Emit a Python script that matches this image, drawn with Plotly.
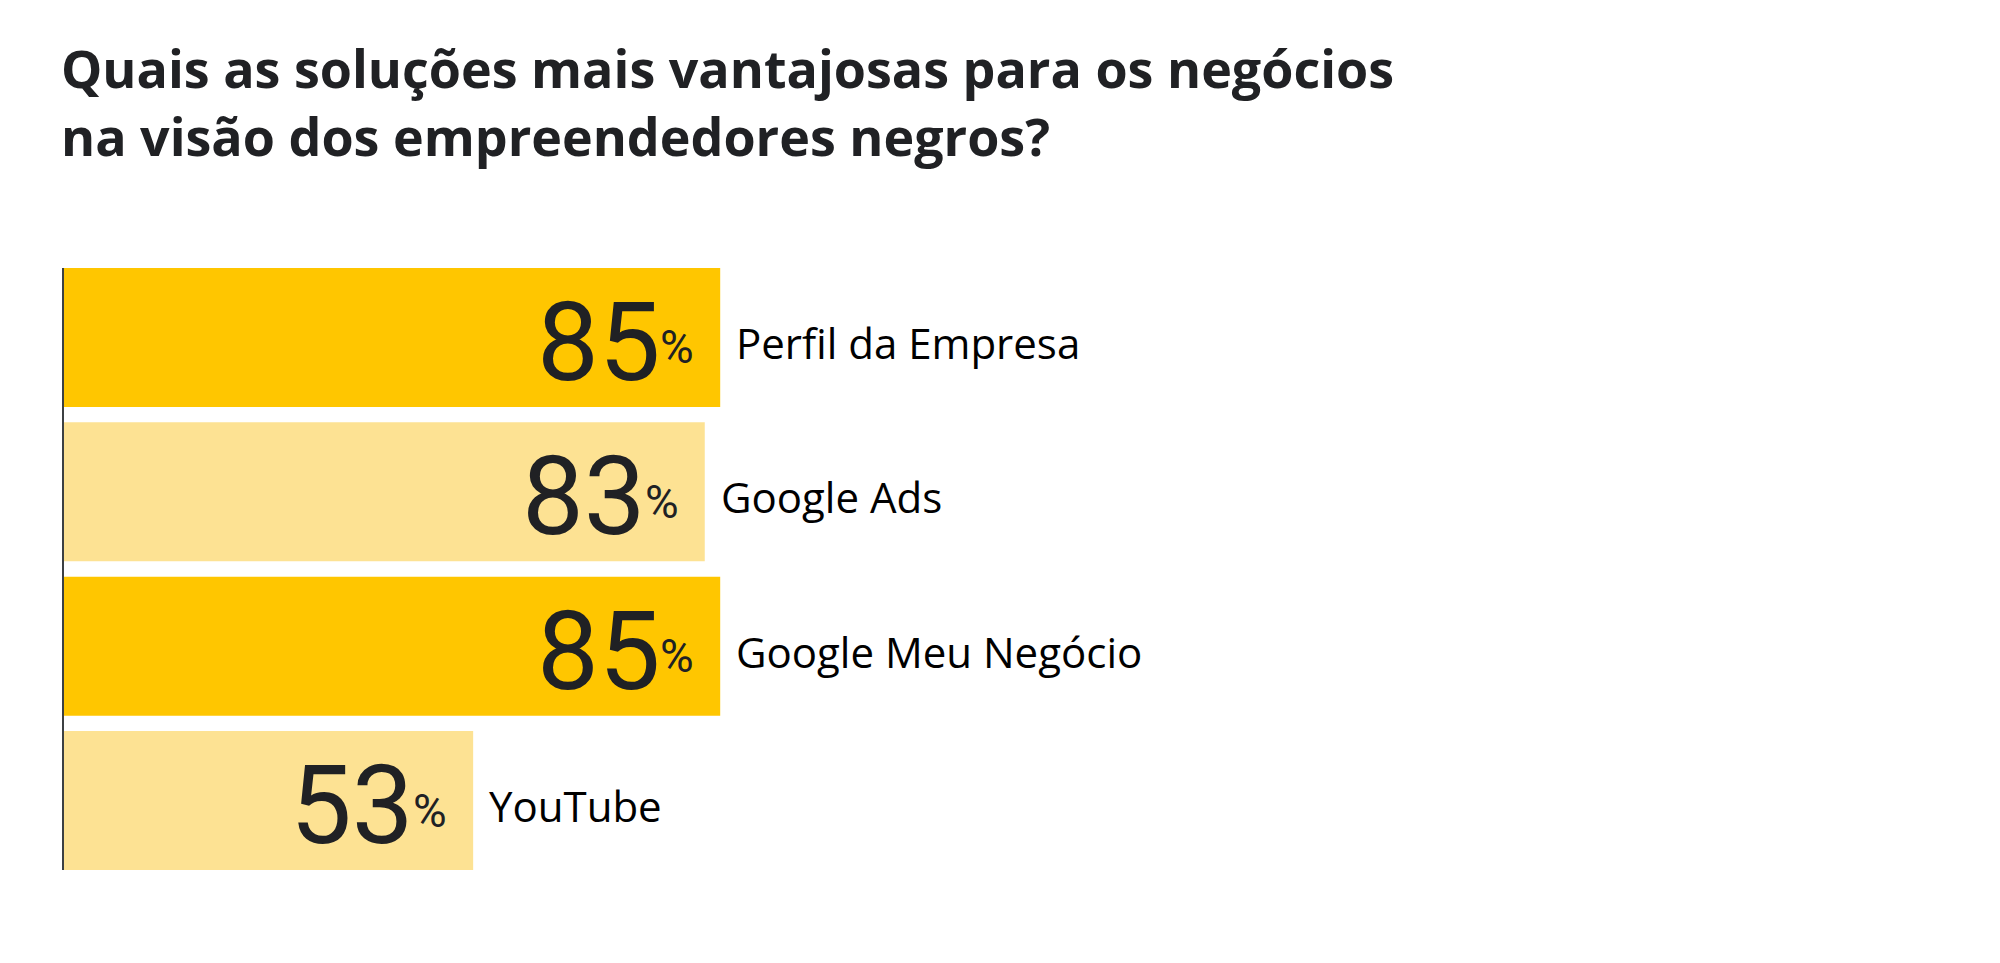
import plotly.graph_objects as go

categories = ["Perfil da Empresa", "Google Ads", "Google Meu Negócio", "YouTube"]
values = [85, 83, 85, 53]
bar_colors = ["#FFC600", "#FDE293", "#FFC600", "#FDE293"]

title_text = (
    "Quais as soluções mais vantajosas para os negócios<br>"
    "na visão dos empreendedores negros?"
)

NUM_FONT = "Roboto"
TXT_FONT = "Open Sans"
DARK = "#202124"

fig = go.Figure()

fig.add_trace(
    go.Bar(
        x=values,
        y=categories,
        orientation="h",
        marker=dict(color=bar_colors, line=dict(width=0)),
        hoverinfo="skip",
        showlegend=False,
    )
)

annotations = []
for cat, val in zip(categories, values):
    # big number, right aligned inside the bar, leaving room for the %
    annotations.append(
        dict(
            x=val, y=cat, xref="x", yref="y",
            text=str(val),
            showarrow=False,
            xanchor="right", yanchor="middle",
            xshift=-57, yshift=-5,
            font=dict(family=NUM_FONT, size=110, color=DARK),
        )
    )
    # small percent sign
    annotations.append(
        dict(
            x=val, y=cat, xref="x", yref="y",
            text="%",
            showarrow=False,
            xanchor="right", yanchor="middle",
            xshift=-24, yshift=-10,
            font=dict(family=NUM_FONT, size=46, color=DARK),
        )
    )
    # category label after the bar
    annotations.append(
        dict(
            x=val, y=cat, xref="x", yref="y",
            text=cat,
            showarrow=False,
            xanchor="left", yanchor="middle",
            xshift=14, yshift=-5,
            font=dict(family=TXT_FONT, size=42, color="#000000"),
        )
    )

# page body adds an 8px margin, so the figure is 16px smaller and shifted
fig.update_layout(
    width=1992,
    height=955,
    paper_bgcolor="white",
    plot_bgcolor="white",
    margin=dict(l=56, r=392, t=260, b=93),
    bargap=0.1,
    title=dict(
        text=title_text,
        xref="container", yref="container",
        x=0.0266, xanchor="left",
        y=0.916, yanchor="top",
        font=dict(family=TXT_FONT, size=52, color=DARK, weight=700),
    ),
    xaxis=dict(
        range=[0, 200],
        visible=False,
        fixedrange=True,
    ),
    yaxis=dict(
        # range hugs the bars so the axis line spans only the bars
        range=[len(categories) - 0.55, -0.45],
        showticklabels=False,
        showgrid=False,
        zeroline=False,
        showline=True,
        linecolor="#3C4043",
        linewidth=2,
        ticks="",
        fixedrange=True,
    ),
    annotations=annotations,
)

fig.write_html("out.html")
